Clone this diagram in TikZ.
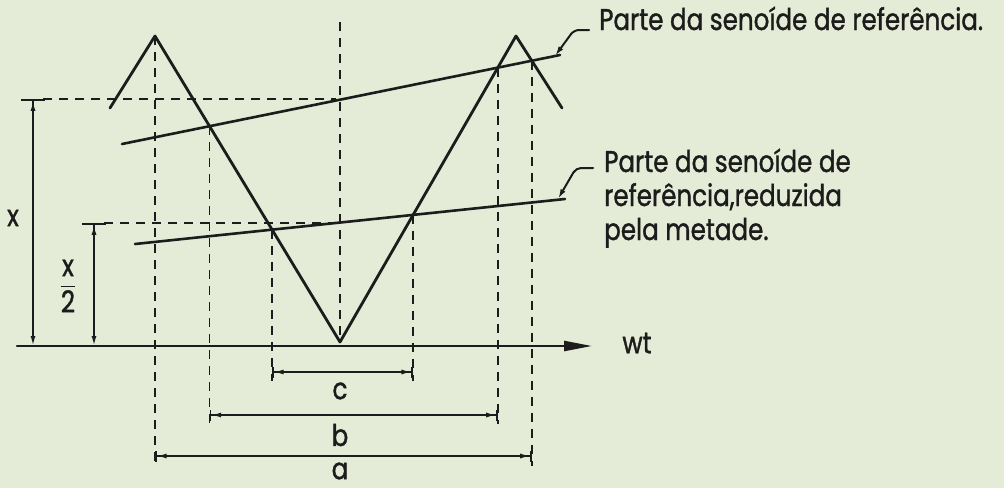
\documentclass[tikz,border=0pt]{standalone}
\usepackage{amsmath}
\usepackage{fontspec}
\setmainfont{Poppins}[FakeStretch=0.82, FakeBold=1.2]
\usetikzlibrary{arrows.meta,intersections}
\definecolor{paper}{HTML}{E4EBD6}
\definecolor{ink}{HTML}{1C1C1C}
\tikzset{
  fig/.style={
    x=1pt, y=-1pt,
    font=\fontsize{30}{34}\selectfont,
    line join=round,
    line cap=round,
  },
  wave/.style={draw=ink, line width=2.8pt},
  refline/.style={draw=ink, line width=2.6pt},
  guide/.style={draw=ink, line width=1.8pt, line cap=butt, dash pattern=on 9pt off 7pt},
  hdim/.style={
    draw=ink, line width=1.6pt,
    {Bar[width=11pt] Latex[length=10pt,width=5pt]}-{Latex[length=10pt,width=5pt] Bar[width=11pt]},
  },
  vdim/.style={
    draw=ink, line width=1.8pt,
    {Bar[width=24pt] Latex[length=10pt,width=5pt]}-{Latex[length=10pt,width=5pt]},
  },
  axisline/.style={draw=ink, line width=2.4pt, -{Triangle[length=28pt,width=10pt]}},
  leader/.style={draw=ink, line width=2pt, rounded corners=5pt, -{Latex[length=10pt,width=5.5pt]}},
  lab/.style={inner sep=1pt, text=ink},
}

\begin{document}
\begin{tikzpicture}[fig]
  \fill[paper] (0,0) rectangle (1004,488);

  % wave corners
  \coordinate (l0) at (110,108);
  \coordinate (pk1) at (155,36);
  \coordinate (vb) at (340,342);
  \coordinate (pk2) at (516,36);
  \coordinate (r0) at (562,108);
  % the two reference segments
  \coordinate (u1) at (122,144);
  \coordinate (u2) at (560,55);
  \coordinate (h1) at (135,244);
  \coordinate (h2) at (565,199);

  \draw[wave] (l0) -- (pk1) -- (vb) -- (pk2) -- (r0);
  \draw[refline, name path=upper] (u1) -- (u2);
  \draw[refline, name path=lower] (h1) -- (h2);

  \path[name path=fall] (pk1) -- (vb);
  \path[name path=rise] (vb) -- (pk2);
  \path[name path=drop] (pk2) -- (r0);
  \path[name intersections={of=upper and fall, by=bL}];
  \path[name intersections={of=upper and rise, by=bR}];
  \path[name intersections={of=upper and drop, by=aR}];
  \path[name intersections={of=lower and fall, by=cL}];
  \path[name intersections={of=lower and rise, by=cR}];

  % axis
  \coordinate (o) at (17,346);
  \coordinate (tip) at (592,346);
  \draw[axisline] (o) -- (tip);
  \node[lab] (wt) at (637,343) {wt};

  % levels of the dimension lines and ends of the guides
  \coordinate (ya) at (0,456);
  \coordinate (yb) at (0,415);
  \coordinate (yc) at (0,372);
  \coordinate (ea) at (0,466);
  \coordinate (eb) at (0,424);
  \coordinate (ec) at (0,381);
  \coordinate (top) at (340,22);

  \draw[guide] (top) -- (vb);
  \draw[guide] (pk1) -- (pk1 |- ea);
  \draw[guide] (aR) -- (aR |- ea);
  \draw[guide] (bL) -- (bL |- eb);
  \draw[guide] (bR) -- (bR |- eb);
  \draw[guide] (cL) -- (cL |- ec);
  \draw[guide] (cR) -- (cR |- ec);

  % amplitude x and x/2
  \coordinate (xa) at (33,99);
  \coordinate (xe) at (336,99);
  \coordinate (ha) at (94,223);
  \coordinate (he) at (336,223);
  \draw[guide] ([xshift=10pt]xa) -- (xe);
  \draw[guide] ([xshift=10pt]ha) -- (he);
  \draw[vdim] (xa) -- (xa |- o);
  \draw[vdim] (ha) -- (ha |- o);
  \node[lab] (xl) at (13,218) {x};
  \node[lab] (hl) at (68,286) {$\dfrac{\textnormal{x}}{\textnormal{2}}$};

  % widths a, b, c
  \draw[hdim] (cL |- yc) -- (cR |- yc);
  \draw[hdim] (bL |- yb) -- (bR |- yb);
  \draw[hdim] (pk1 |- ya) -- (aR |- ya);
  \node[lab] (cl) at (340,391) {c};
  \node[lab] (bl) at (340,435) {b};
  \node[lab] (al) at (340,471) {a};

  % callouts
  \node[lab, anchor=base west] (ref1) at (598,30) {Parte da senoíde de referência.};
  \node[lab, anchor=base west, align=left] (ref2) at (603,240)
    {Parte da senoíde de\\referência,reduzida\\pela metade.};
  \coordinate (k1) at (574,30);
  \coordinate (t1) at (555,56);
  \coordinate (k2) at (576,168);
  \coordinate (t2) at (558,199);
  \draw[leader] ([xshift=-9pt]ref1.base west) -- (k1) -- (t1);
  \draw[leader] ([xshift=-10pt]k2 -| ref2.west) -- (k2) -- (t2);
\end{tikzpicture}
\end{document}
